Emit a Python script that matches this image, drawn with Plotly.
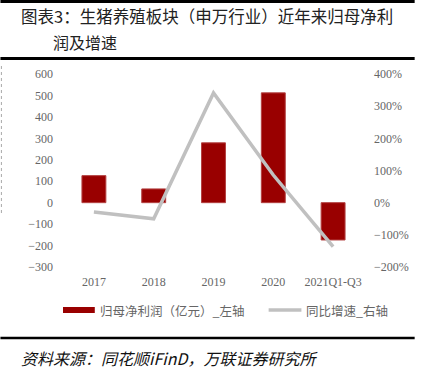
import plotly.graph_objects as go

categories = ["2017", "2018", "2019", "2020", "2021Q1-Q3"]
net_profit = [126, 64, 279, 512, -174]          # 亿元, left axis
yoy_growth = [-0.29, -0.50, 3.41, 0.86, -1.37]  # right axis
left_ticks = list(range(-300, 601, 100))
right_ticks = [-2, -1, 0, 1, 2, 3, 4]

title_line1 = "图表3：生猪养殖板块（申万行业）近年来归母净利"
title_line2 = "润及增速"
legend_bar = "归母净利润（亿元）_左轴"
legend_line = "同比增速_右轴"
source_text = "资料来源：同花顺iFinD，万联证券研究所"

CJK = "Noto Sans CJK SC"
SERIF = "Liberation Serif"
GRAY = "#666666"

W, H = 421, 372
ML, MR, MT, MB = 64, 56, 74, 105

fig = go.Figure()
fig.add_trace(go.Bar(
    x=categories, y=net_profit, name=legend_bar,
    marker=dict(color="#990000", line=dict(color="#b34040", width=1)),
    width=0.4, yaxis="y", showlegend=False,
))
fig.add_trace(go.Scatter(
    x=categories, y=yoy_growth, name=legend_line, mode="lines",
    line=dict(color="#c0c0c0", width=3.5), yaxis="y2", showlegend=False,
))

fig.update_layout(
    width=W, height=H,
    margin=dict(l=ML, r=MR, t=MT, b=MB),
    paper_bgcolor="white", plot_bgcolor="white",
    font=dict(family=SERIF, size=12, color=GRAY),
    xaxis=dict(showgrid=False, zeroline=False, showline=False, ticks="",
               tickfont=dict(family=SERIF, size=12, color=GRAY),
               ticklabelstandoff=6),
    yaxis=dict(range=[-300, 600], tickvals=left_ticks, showgrid=False,
               zeroline=False, showline=False, ticks="",
               tickfont=dict(family=SERIF, size=12, color=GRAY),
               ticklabelstandoff=10),
    yaxis2=dict(range=[-2, 4], tickvals=right_ticks, tickformat=".0%",
                overlaying="y", side="right", showgrid=False,
                zeroline=False, showline=False, ticks="",
                tickfont=dict(family=SERIF, size=12, color=GRAY),
                ticklabelstandoff=10),
    bargap=0.6,
)

PW = W - ML - MR
PH = H - MT - MB

def px_x(x):
    return (x - ML) / PW

def px_y(y):
    return (H - MB - y) / PH

shapes = [
    dict(type="line", xref="paper", yref="paper", x0=px_x(0), x1=px_x(417),
         y0=px_y(1.5), y1=px_y(1.5), line=dict(color="black", width=3)),
    dict(type="line", xref="paper", yref="paper", x0=px_x(0), x1=px_x(417),
         y0=px_y(58.5), y1=px_y(58.5), line=dict(color="black", width=3)),
    dict(type="line", xref="paper", yref="paper", x0=px_x(0), x1=px_x(417),
         y0=px_y(338), y1=px_y(338), line=dict(color="black", width=2.5)),
    dict(type="rect", xref="paper", yref="paper", x0=px_x(63), x1=px_x(95),
         y0=px_y(313), y1=px_y(307), fillcolor="#990000", line=dict(width=0)),
    dict(type="line", xref="paper", yref="paper", x0=px_x(270), x1=px_x(303),
         y0=px_y(310), y1=px_y(310), line=dict(color="#c0c0c0", width=3.5)),
    dict(type="line", xref="paper", yref="paper", x0=px_x(1), x1=px_x(1),
         y0=px_y(66), y1=px_y(214), line=dict(color="#aaaaaa", width=1, dash="dot")),
]

annotations = [
    dict(text=title_line1, xref="paper", yref="paper", x=px_x(19), y=px_y(16),
         xanchor="left", yanchor="middle", showarrow=False,
         font=dict(family=CJK, size=16.5, color="#222222")),
    dict(text=title_line2, xref="paper", yref="paper", x=px_x(51), y=px_y(42),
         xanchor="left", yanchor="middle", showarrow=False,
         font=dict(family=CJK, size=16, color="#222222")),
    dict(text=legend_bar, xref="paper", yref="paper", x=px_x(98), y=px_y(310),
         xanchor="left", yanchor="middle", showarrow=False,
         font=dict(family=CJK, size=12.5, color=GRAY)),
    dict(text=legend_line, xref="paper", yref="paper", x=px_x(306), y=px_y(310),
         xanchor="left", yanchor="middle", showarrow=False,
         font=dict(family=CJK, size=12.5, color=GRAY)),
    dict(text="<i>" + source_text + "</i>", xref="paper", yref="paper",
         x=px_x(19), y=px_y(358), xanchor="left", yanchor="middle", showarrow=False,
         font=dict(family=CJK, size=16, color="#111111")),
]

fig.update_layout(shapes=shapes, annotations=annotations)
fig.write_html("out.html", config={"displayModeBar": False},
               post_script="document.body.style.margin='0';")
